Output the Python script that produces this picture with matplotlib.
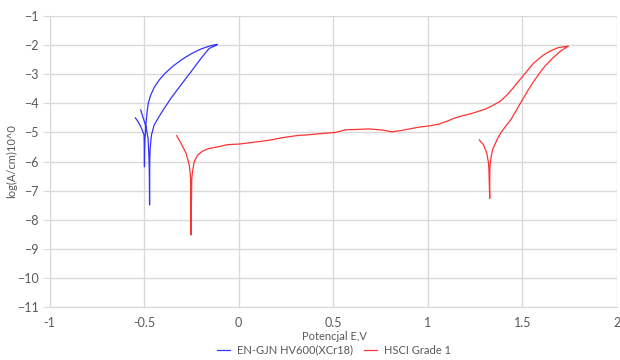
import matplotlib
matplotlib.use("Agg")
import matplotlib.pyplot as plt

plt.rcParams['font.family'] = ['Lato', 'DejaVu Sans']

# EN-GJN HV600(XCr18): potential (V) and log current density, in scan order
blue_E = [-0.546, -0.530, -0.518, -0.508, -0.500, -0.499, -0.498, -0.497, -0.495,
          -0.490, -0.484, -0.478, -0.465, -0.446, -0.420, -0.390, -0.350, -0.300,
          -0.250, -0.200, -0.150, -0.112,
          -0.125, -0.156, -0.199, -0.252, -0.305, -0.358, -0.393, -0.421, -0.447,
          -0.461, -0.468, -0.470, -0.471, -0.472, -0.473, -0.474, -0.479, -0.490,
          -0.505, -0.518]
blue_L = [-4.50, -4.65, -4.80, -4.95, -5.09, -5.50, -6.18, -5.60, -5.20,
          -4.70, -4.30, -4.00, -3.72, -3.45, -3.20, -2.98, -2.74, -2.50,
          -2.30, -2.14, -2.03, -1.98,
          -2.03, -2.12, -2.46, -2.92, -3.37, -3.83, -4.17, -4.46, -4.75,
          -5.09, -5.55, -6.00, -7.49, -6.60, -6.20, -5.89, -5.20, -4.80,
          -4.50, -4.23]

# HSCI Grade 1
red_E = [-0.328, -0.305, -0.278, -0.261, -0.254, -0.252, -0.248, -0.244, -0.235,
         -0.217, -0.191, -0.156, -0.106, -0.059, 0.003, 0.126, 0.178, 0.231,
         0.319, 0.354, 0.420, 0.513, 0.565, 0.620, 0.688, 0.759, 0.811, 0.864,
         0.952, 1.005, 1.057, 1.100, 1.145, 1.190, 1.233, 1.304, 1.348, 1.385,
         1.418, 1.445, 1.470, 1.515, 1.558, 1.610, 1.650, 1.690, 1.743,
         1.700, 1.660, 1.620, 1.590, 1.560, 1.530, 1.500, 1.470, 1.440, 1.410,
         1.385, 1.365, 1.342, 1.333, 1.328, 1.327, 1.323, 1.321, 1.312, 1.295,
         1.272]
red_L = [-5.11, -5.37, -5.72, -6.12, -6.57, -8.52, -6.60, -6.35, -6.00,
         -5.78, -5.64, -5.55, -5.49, -5.42, -5.40, -5.30, -5.25, -5.18,
         -5.10, -5.09, -5.05, -5.00, -4.91, -4.90, -4.88, -4.92, -4.98, -4.93,
         -4.82, -4.78, -4.72, -4.62, -4.50, -4.42, -4.35, -4.20, -4.06, -3.92,
         -3.72, -3.52, -3.32, -2.97, -2.63, -2.35, -2.20, -2.09, -2.04,
         -2.22, -2.45, -2.72, -2.97, -3.25, -3.55, -3.88, -4.22, -4.55, -4.80,
         -5.02, -5.26, -5.60, -5.89, -6.18, -7.26, -6.30, -6.06, -5.72, -5.43,
         -5.26]

x_ticks = [-1, -0.5, 0, 0.5, 1, 1.5, 2]
x_labels = ['-1', '-0.5', '0', '0.5', '1', '1.5', '2']
y_ticks = list(range(-11, 0))

txt = '#595959'
grid = '#d9d9d9'

left_px, right_px, top_px, bot_px = 49.5, 617.0, 15.8, 307.3
fig = plt.figure(figsize=(6.2, 3.6), dpi=100)
ax = fig.add_axes([left_px / 620, 1 - bot_px / 360, (right_px - left_px) / 620,
                   (bot_px - top_px) / 360])

ax.plot(blue_E, blue_L, color='#3333ff', lw=0.9, label='EN-GJN HV600(XCr18)')
ax.plot(red_E, red_L, color='#ff3333', lw=0.9, label='HSCI Grade 1')

ax.set_xlim(-1, 2)
ax.set_ylim(-11, -1)
ax.set_xticks(x_ticks)
ax.set_xticklabels(x_labels)
ax.set_yticks(y_ticks)
ax.grid(True, color=grid, lw=1)
ax.set_axisbelow(True)
for s in ['top', 'right']:
    ax.spines[s].set_visible(False)
ax.spines['left'].set_color(grid)
ax.spines['bottom'].set_color(grid)
ax.tick_params(axis='y', length=5, color=grid, labelsize=9, labelcolor=txt, pad=3)
ax.tick_params(axis='x', length=0, labelsize=9, labelcolor=txt, pad=7)

w = right_px - left_px
h = bot_px - top_px
ax.set_xlabel('Potencjal E,V', fontsize=8, color=txt)
ax.xaxis.set_label_coords((334 - left_px) / w, -(337 - bot_px) / h)
ax.xaxis.label.set_va('center')
ax.set_ylabel('log(A/cm)10^0', fontsize=8, color=txt)
ax.yaxis.set_label_coords(-(left_px - 12) / w, 0.5)
ax.yaxis.label.set_va('center')

fig.legend(loc='center', bbox_to_anchor=(334 / 620, 1 - 350 / 360), ncol=2, frameon=False,
           fontsize=8, handlelength=1.2, handletextpad=0.6, columnspacing=1.0,
           labelcolor=txt)

fig.savefig('out.png', dpi=100)
